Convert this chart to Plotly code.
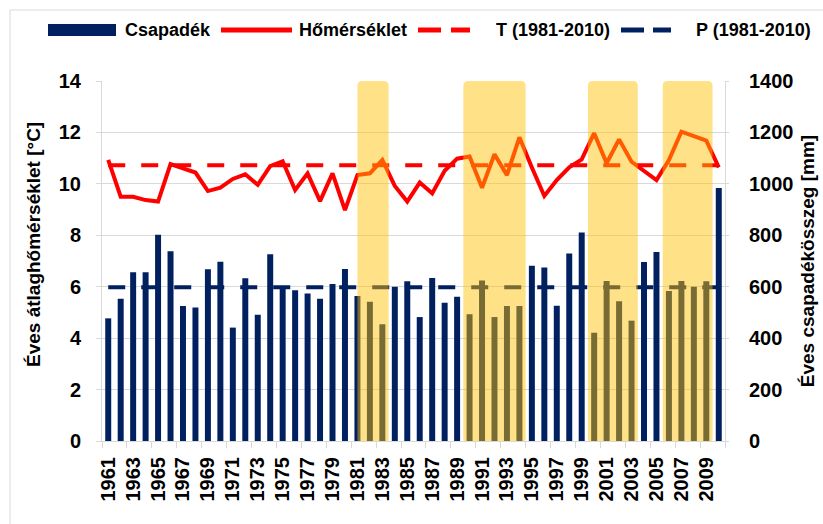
import plotly.graph_objects as go

# ---------------- data ----------------
years = list(range(1961, 2011))
precip_mm = [477, 553, 656, 656, 802, 738, 525, 519, 668, 697,
             441, 633, 491, 726, 600, 586, 574, 553, 611, 669,
             564, 542, 454, 600, 621, 482, 634, 538, 561, 493,
             624, 482, 525, 525, 682, 675, 526, 729, 811, 421,
             622, 543, 468, 696, 735, 583, 622, 600, 621, 984]
temp_c = [10.93, 9.50, 9.50, 9.37, 9.31, 10.77, 10.60, 10.44, 9.72, 9.85,
          10.19, 10.37, 9.96, 10.69, 10.88, 9.76, 10.41, 9.33, 10.41, 8.98,
          10.34, 10.41, 10.93, 9.92, 9.31, 10.05, 9.63, 10.51, 10.98, 11.06,
          9.85, 11.15, 10.34, 11.81, 10.64, 9.53, 10.15, 10.64, 10.95, 11.97,
          10.80, 11.73, 10.86, 10.51, 10.15, 10.93, 12.03, 11.86, 11.68, 10.64]
T_norm = 10.72   # T (1981-2010) [°C]
P_norm = 598     # P (1981-2010) [mm]
hl_from = [1981.0, 1989.5, 1999.5, 2005.5]
hl_to = [1983.5, 1994.5, 2003.5, 2009.5]
series_names = ["Csapadék", "Hőmérséklet", "T (1981-2010)", "P (1981-2010)"]
y_left_title = "Éves átlaghőmérséklet [°C]"
y_right_title = "Éves csapadékösszeg [mm]"

NAVY = "#002060"
RED = "#FF0000"
GRID = "#D9D9D9"
FONT = "Arial, 'Liberation Sans', sans-serif"

W, H = 823, 524
ML, MR, MT, MB = 102, 98, 81, 83
PW, PH = W - ML - MR, H - MT - MB
X_RANGE = [1960.5, 2010.5]
Y_RANGE = [0, 14]

def px(xp):
    return (xp - ML) / PW

def py(yp):
    return (H - MB - yp) / PH

fig = go.Figure()

fig.add_trace(go.Scatter(x=[years[0], years[-1]], y=[T_norm, T_norm], mode="lines",
                         line=dict(color=RED, width=4, dash="17px,16px"),
                         name=series_names[2], showlegend=False))
fig.add_trace(go.Scatter(x=years, y=temp_c, mode="lines",
                         line=dict(color=RED, width=4),
                         name=series_names[1], showlegend=False))
fig.add_trace(go.Bar(x=years, y=precip_mm, yaxis="y2", marker_color=NAVY,
                     marker_line_width=0, width=0.48,
                     name=series_names[0], showlegend=False))
fig.add_trace(go.Scatter(x=[years[0], years[-1]], y=[P_norm, P_norm], yaxis="y2",
                         mode="lines", line=dict(color=NAVY, width=4, dash="17px,16px"),
                         name=series_names[3], showlegend=False))

shapes = []
# rounded highlight boxes (corner radius ~5 px expressed in axis units)
rx = 5 * (X_RANGE[1] - X_RANGE[0]) / PW
ry = 5 * (Y_RANGE[1] - Y_RANGE[0]) / PH
y0b, y1b = -0.1, 14
for a, b in zip(hl_from, hl_to):
    path = (f"M {a+rx},{y0b} L {b-rx},{y0b} Q {b},{y0b} {b},{y0b+ry} "
            f"L {b},{y1b-ry} Q {b},{y1b} {b-rx},{y1b} L {a+rx},{y1b} "
            f"Q {a},{y1b} {a},{y1b-ry} L {a},{y0b+ry} Q {a},{y0b} {a+rx},{y0b} Z")
    shapes.append(dict(type="path", xref="x", yref="y", path=path,
                       fillcolor="#FFC000", opacity=0.47, line=dict(width=0),
                       layer="above"))

# outer chart border
shapes.append(dict(type="rect", xref="paper", yref="paper",
                   x0=px(10), x1=px(W + 5), y0=py(H + 5), y1=py(10),
                   line=dict(color=GRID, width=1), fillcolor="rgba(0,0,0,0)", layer="below"))

# manual legend
LY = 30
shapes.append(dict(type="rect", xref="paper", yref="paper",
                   x0=px(48), x1=px(116), y0=py(LY + 6), y1=py(LY - 6),
                   fillcolor=NAVY, line=dict(width=0)))
shapes.append(dict(type="line", xref="paper", yref="paper",
                   x0=px(221), x1=px(292), y0=py(LY), y1=py(LY),
                   line=dict(color=RED, width=5)))
for x0, x1 in [(418, 441), (451, 470)]:
    shapes.append(dict(type="line", xref="paper", yref="paper",
                       x0=px(x0), x1=px(x1), y0=py(LY), y1=py(LY),
                       line=dict(color=RED, width=5)))
for x0, x1 in [(621, 644), (653, 671)]:
    shapes.append(dict(type="line", xref="paper", yref="paper",
                       x0=px(x0), x1=px(x1), y0=py(LY), y1=py(LY),
                       line=dict(color=NAVY, width=5)))

annotations = []
for name, xl in zip(series_names, [123, 297, 494, 694]):
    annotations.append(dict(xref="paper", yref="paper", x=px(xl), y=py(LY),
                            text=name, showarrow=False, xanchor="left", yanchor="middle",
                            font=dict(family=FONT, size=18, color="black", weight="bold")))
# left axis title
annotations.append(dict(xref="paper", yref="paper", x=px(33), y=py(245),
                        text=y_left_title, showarrow=False, textangle=-90,
                        xanchor="center", yanchor="middle",
                        font=dict(family=FONT, size=19, color="black", weight="bold")))

fig.update_layout(
    width=W, height=H,
    margin=dict(l=ML, r=MR, t=MT, b=MB, pad=0, autoexpand=False),
    paper_bgcolor="white", plot_bgcolor="white",
    font=dict(family=FONT, color="black"),
    showlegend=False,
    bargap=0.5,
    shapes=shapes,
    annotations=annotations,
    xaxis=dict(
        type="linear", range=X_RANGE,
        tickmode="linear", tick0=1961, dtick=2, tickformat="d",
        tickangle=-90, ticks="", showgrid=False, zeroline=False,
        showline=True, linecolor=GRID, linewidth=1,
        tickfont=dict(family=FONT, size=20, color="black", weight="bold"),
        ticklabelstandoff=7,
        minor=dict(ticks="outside", tick0=1960.5, dtick=2, ticklen=6,
                   tickcolor=GRID, showgrid=False),
    ),
    yaxis=dict(
        range=Y_RANGE, tickmode="linear", tick0=0, dtick=2,
        showgrid=True, gridcolor=GRID, gridwidth=1, zeroline=False,
        showline=True, linecolor=GRID, linewidth=1,
        ticks="outside", ticklen=5, tickcolor=GRID,
        ticklabelstandoff=11,
        tickfont=dict(family=FONT, size=20, color="black", weight="bold"),
    ),
    yaxis2=dict(
        range=[0, 1400], tickmode="linear", tick0=0, dtick=200,
        overlaying="y", side="right", showgrid=False, zeroline=False,
        showline=True, linecolor=GRID, linewidth=1,
        ticks="outside", ticklen=3, tickcolor=GRID,
        ticklabelstandoff=16,
        tickfont=dict(family=FONT, size=20, color="black", weight="bold"),
        title=dict(text=y_right_title, standoff=8,
                   font=dict(family=FONT, size=19, color="black", weight="bold")),
    ),
)

fig.write_html("out.html", config={"displayModeBar": False},
               post_script="document.body.style.margin='0px';document.body.style.overflow='hidden';")
